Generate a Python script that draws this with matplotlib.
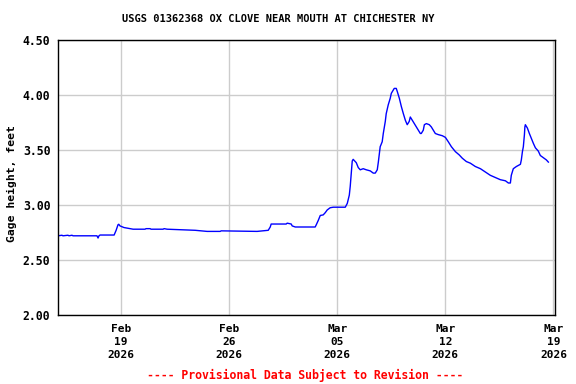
import datetime as dt
import matplotlib
matplotlib.use("Agg")
import matplotlib.pyplot as plt
import matplotlib.dates as mdates

# days since 2026-02-15 00:00 and gage height (feet)
days = [
    -0.08, 0.17, 0.24, 0.56, 0.63, 0.82, 0.89, 2.44, 2.51, 2.57, 2.64,
    3.55, 3.68, 3.80, 3.85, 3.93, 4.19, 4.58, 4.78, 5.55, 5.62, 5.88,
    5.94, 6.72, 6.79, 6.98, 8.80, 9.57, 10.42, 10.48, 12.81, 13.53,
    13.66, 13.72, 14.69, 14.76, 15.02, 15.08, 15.28, 15.41, 16.57, 16.64,
    16.77, 16.90, 17.09, 17.22, 17.35, 17.54, 17.74, 18.52, 18.65, 18.78,
    18.84, 18.91, 18.97, 19.03, 19.23, 19.36, 19.49, 19.68, 19.88, 20.14,
    20.33, 20.46, 20.59, 20.66, 20.78, 20.91, 20.98, 21.11, 21.17, 21.30,
    21.43, 21.50, 21.63, 21.69, 21.82, 21.89, 22.02, 22.15, 22.28, 22.41,
    22.53, 22.66, 22.73, 22.86, 22.99, 23.12, 23.25, 23.38, 23.44, 23.57,
    23.64, 23.77, 23.96, 24.09, 24.22, 24.35, 24.54, 24.80, 25.00, 25.19,
    25.39, 25.65, 25.90, 26.10, 26.36, 26.62, 26.94, 27.27, 27.59, 27.91,
    28.24, 28.56, 28.89, 29.08, 29.21, 29.27, 29.40, 29.60, 29.73, 29.86,
    29.92, 29.99, 30.05, 30.12, 30.15, 30.18, 30.31, 30.44, 30.57, 30.70,
    30.83, 31.02, 31.15, 31.35, 31.54, 31.67,
]
gage = [
    2.72, 2.725, 2.72, 2.725, 2.72, 2.725, 2.72, 2.72, 2.70, 2.72, 2.727,
    2.727, 2.77, 2.82, 2.825, 2.81, 2.795, 2.785, 2.78, 2.78, 2.785, 2.785,
    2.78, 2.78, 2.785, 2.78, 2.77, 2.76, 2.76, 2.765, 2.76, 2.77,
    2.80, 2.827, 2.827, 2.835, 2.827, 2.81, 2.80, 2.80, 2.80, 2.82,
    2.86, 2.905, 2.91, 2.93, 2.955, 2.975, 2.98, 2.98, 3.015, 3.09,
    3.17, 3.29, 3.40, 3.415, 3.385, 3.34, 3.32, 3.33, 3.32, 3.31,
    3.29, 3.29, 3.32, 3.39, 3.53, 3.575, 3.65, 3.76, 3.83, 3.91,
    3.97, 4.015, 4.045, 4.06, 4.06, 4.03, 3.97, 3.895, 3.83, 3.77,
    3.73, 3.76, 3.80, 3.77, 3.74, 3.71, 3.68, 3.65, 3.65, 3.68,
    3.73, 3.74, 3.73, 3.71, 3.68, 3.65, 3.64, 3.63, 3.615, 3.575,
    3.53, 3.485, 3.455, 3.425, 3.395, 3.38, 3.35, 3.33, 3.30, 3.27,
    3.25, 3.23, 3.22, 3.20, 3.20, 3.27, 3.33, 3.35, 3.36, 3.37,
    3.41, 3.485, 3.53, 3.64, 3.71, 3.73, 3.70, 3.65, 3.605, 3.56,
    3.52, 3.49, 3.45, 3.43, 3.41, 3.39,
]
tick_dates = ["2026-02-19", "2026-02-26", "2026-03-05", "2026-03-12", "2026-03-19"]
tick_labels = ["Feb\n19\n2026", "Feb\n26\n2026", "Mar\n05\n2026", "Mar\n12\n2026", "Mar\n19\n2026"]
y_ticks = [2.00, 2.50, 3.00, 3.50, 4.00, 4.50]

title = "USGS 01362368 OX CLOVE NEAR MOUTH AT CHICHESTER NY"
y_label = "Gage height, feet"
footer = "---- Provisional Data Subject to Revision ----"


def main():
    start = dt.datetime(2026, 2, 15)
    times = [start + dt.timedelta(days=d) for d in days]

    plt.rcParams["font.family"] = "DejaVu Sans Mono"
    plt.rcParams["font.weight"] = "bold"

    fig = plt.figure(figsize=(5.76, 3.84), dpi=100)
    ax = fig.add_axes([58 / 576, 1 - 315 / 384, 497 / 576, 275 / 384])

    ax.plot(times, gage, color="#0000ff", linewidth=1.0)

    ax.set_xlim(start - dt.timedelta(days=0.084), start + dt.timedelta(days=32.1))
    ax.set_ylim(2.0, 4.5)

    ax.set_xticks([mdates.date2num(dt.datetime.fromisoformat(t)) for t in tick_dates])
    ax.set_xticklabels(tick_labels, fontsize=8, fontweight="bold", linespacing=1.4)
    ax.set_yticks(y_ticks)
    ax.set_yticklabels([f"{v:.2f}" for v in y_ticks], fontsize=8.3, fontweight="bold")
    ax.tick_params(length=0)
    ax.tick_params(axis="y", pad=5.5)
    ax.tick_params(axis="x", pad=6.5)

    ax.grid(True, color="#cccccc", linewidth=1.0)
    ax.set_axisbelow(True)
    for spine in ax.spines.values():
        spine.set_linewidth(1.0)
        spine.set_color("black")

    fig.text(278 / 576, 1 - 19 / 384, title, ha="center", va="center",
             fontsize=7.5, fontweight="bold")
    fig.text(12 / 576, 1 - 184 / 384, y_label, ha="center", va="center",
             rotation=90, fontsize=8.2, fontweight="bold")
    fig.text(305 / 576, 1 - 375 / 384, footer, ha="center", va="center",
             fontsize=8.3, fontweight="bold", color="#ff0000")

    fig.savefig("out.png", dpi=100)


if __name__ == "__main__":
    main()
